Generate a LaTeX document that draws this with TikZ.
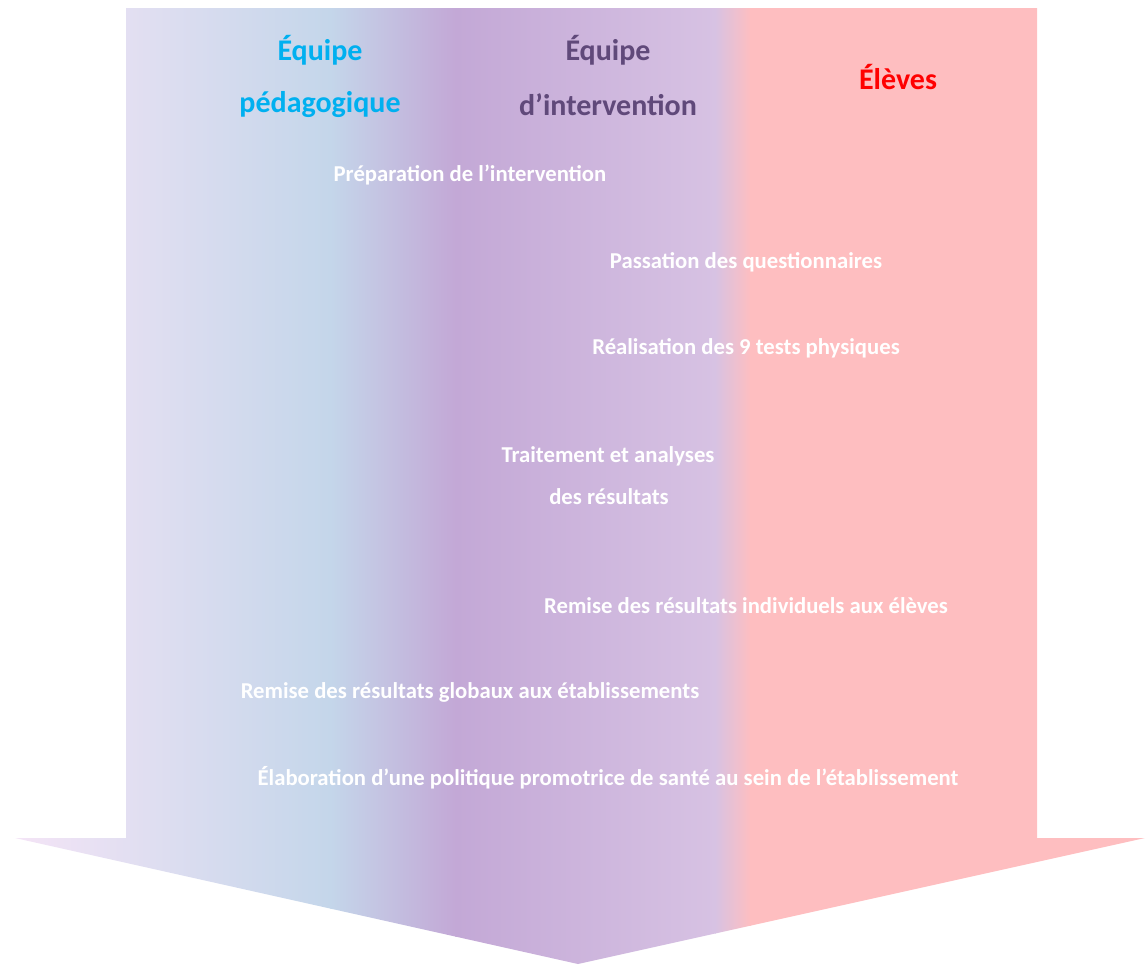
\documentclass[tikz,border=0pt]{standalone}
\usepackage{fontspec}
\setmainfont{Carlito}
\definecolor{lavclair}{RGB}{244,228,246}
\definecolor{bleuclair}{RGB}{196,214,234}
\definecolor{violet}{RGB}{195,168,214}
\definecolor{lavande}{RGB}{215,194,227}
\definecolor{rose}{RGB}{254,190,192}
\definecolor{cyanped}{RGB}{0,176,240}
\definecolor{violetfonce}{RGB}{96,73,122}
\definecolor{rouge}{RGB}{255,0,0}
\tikzset{
  titre/.style={font=\fontsize{30}{34}\selectfont\bfseries, align=center},
  etape/.style={font=\fontsize{22.7}{26}\selectfont\bfseries, text=white, align=center}
}
\begin{document}
\begin{tikzpicture}[x=1pt, y=-1pt]
  \useasboundingbox (0,0) rectangle (1145,964);
  % flèche avec dégradé
  \begin{scope}
    \clip (126,8) -- (1037,8) -- (1037,838) -- (1145,838) -- (578,964)
      -- (15,838) -- (126,838) -- cycle;
    \shade[left color=lavclair, right color=bleuclair] (14,0) rectangle (331,964);
    \shade[left color=bleuclair, right color=violet] (330,0) rectangle (456,964);
    \shade[left color=violet, right color=lavande] (455,0) rectangle (716,964);
    \shade[left color=lavande, right color=rose] (715,0) rectangle (751,964);
    \fill[rose] (750,0) rectangle (1146,964);
  \end{scope}
  % acteurs
  \node[titre, text=cyanped] (ped1) at (320,50) {Équipe};
  \node[titre, text=cyanped] (ped2) at (320,105) {pédagogique};
  \node[titre, text=violetfonce] (int1) at (608,50) {Équipe};
  \node[titre, text=violetfonce] (int2) at (608,105) {d’intervention};
  \node[titre, text=rouge] (eleves) at (898,77) {Élèves};
  % étapes
  \node[etape] (prep) at (470,175) {Préparation de l’intervention};
  \node[etape] (quest) at (746,262) {Passation des questionnaires};
  \node[etape] (tests) at (746,348) {Réalisation des 9 tests physiques};
  \node[etape] (trait1) at (608,456) {Traitement et analyses};
  \node[etape] (trait2) at (609,497) {des résultats};
  \node[etape] (indiv) at (746,606) {Remise des résultats individuels aux élèves};
  \node[etape] (glob) at (470,692) {Remise des résultats globaux aux établissements};
  \node[etape] (polit) at (608,778) {Élaboration d’une politique promotrice de santé au sein de l’établissement};
\end{tikzpicture}
\end{document}
